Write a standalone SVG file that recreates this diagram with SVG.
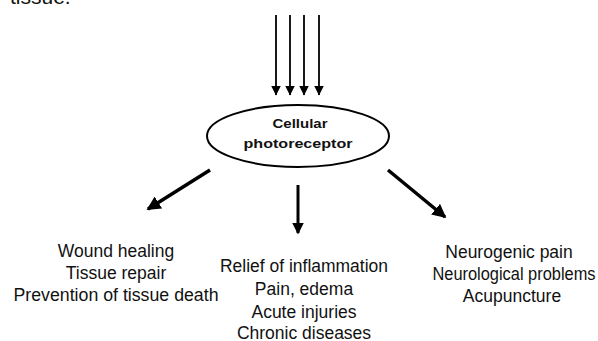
<svg xmlns="http://www.w3.org/2000/svg" width="598" height="341" viewBox="0 0 598 341">
<defs>
<marker id="ah" markerWidth="4" markerHeight="4" refX="3.5" refY="2" orient="auto" markerUnits="strokeWidth">
<path d="M0,0 L4,2 L0,4 Z" fill="#000"/>
</marker>
<marker id="ahs" markerWidth="10" markerHeight="10" refX="9.5" refY="5" orient="auto" markerUnits="userSpaceOnUse">
<path d="M0,0 L10,5 L0,10 Z" fill="#000"/>
</marker>
</defs>
<style>
.t{font-family:"Liberation Sans",Arial,sans-serif;font-size:17.5px;fill:#111;text-anchor:middle}
.b{font-family:"Liberation Sans",Arial,sans-serif;font-size:13px;font-weight:bold;fill:#111;text-anchor:middle}
.c{stroke:#000;fill:none}
</style>
<rect width="598" height="341" fill="#fff"/>
<text x="10" y="4" style="font-family:'Liberation Sans',Arial,sans-serif;font-size:21px;fill:#111">tissue.</text>
<g id="connectors">
<line class="c" x1="276" y1="15" x2="276" y2="95" stroke-width="1.8" marker-end="url(#ahs)"/>
<line class="c" x1="290" y1="15" x2="290" y2="95" stroke-width="1.8" marker-end="url(#ahs)"/>
<line class="c" x1="304" y1="15" x2="304" y2="95" stroke-width="1.8" marker-end="url(#ahs)"/>
<line class="c" x1="319" y1="15" x2="319" y2="95" stroke-width="1.8" marker-end="url(#ahs)"/>
<line class="c" x1="210" y1="170" x2="148" y2="209" stroke-width="3.5" marker-end="url(#ah)"/>
<line class="c" x1="298" y1="185" x2="298" y2="233" stroke-width="3" marker-end="url(#ah)"/>
<line class="c" x1="388" y1="170" x2="445" y2="217" stroke-width="3.5" marker-end="url(#ah)"/>
</g>
<g id="photoreceptor">
<ellipse cx="298" cy="136" rx="91" ry="31" fill="#fff" stroke="#000" stroke-width="2"/>
<text class="b" x="300" y="128" textLength="55" lengthAdjust="spacingAndGlyphs">Cellular</text>
<text class="b" x="298" y="148" textLength="109" lengthAdjust="spacingAndGlyphs">photoreceptor</text>
</g>
<g id="left">
<text class="t" x="116" y="257">Wound healing</text>
<text class="t" x="116" y="279">Tissue repair</text>
<text class="t" x="116" y="301" textLength="205" lengthAdjust="spacingAndGlyphs">Prevention of tissue death</text>
</g>
<g id="middle">
<text class="t" x="304" y="272" textLength="168" lengthAdjust="spacingAndGlyphs">Relief of inflammation</text>
<text class="t" x="304" y="295">Pain, edema</text>
<text class="t" x="304" y="318">Acute injuries</text>
<text class="t" x="304" y="339">Chronic diseases</text>
</g>
<g id="right">
<text class="t" x="509" y="258">Neurogenic pain</text>
<text class="t" x="514" y="280" textLength="163" lengthAdjust="spacingAndGlyphs">Neurological problems</text>
<text class="t" x="512" y="302">Acupuncture</text>
</g>
</svg>
